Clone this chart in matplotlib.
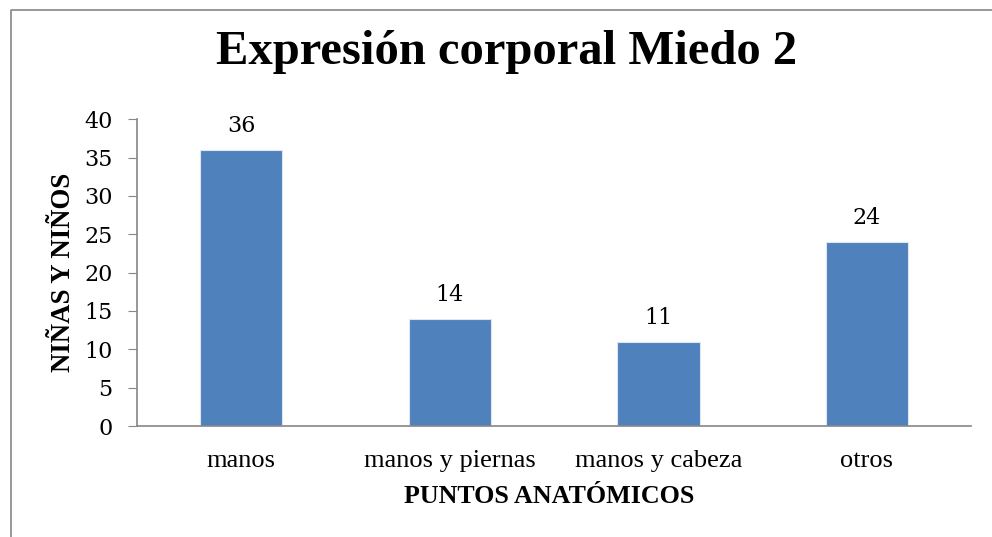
import matplotlib.pyplot as plt
from matplotlib.lines import Line2D

categories = ["manos", "manos y piernas", "manos y cabeza", "otros"]
values = [36, 14, 11, 24]

title = "Expresión corporal Miedo 2"
xlabel = "PUNTOS ANATÓMICOS"
ylabel = "NIÑAS Y NIÑOS"

plt.rcParams['font.family'] = ['Liberation Serif', 'DejaVu Serif']

fig = plt.figure(figsize=(9.92, 5.37), dpi=100)
ax = fig.add_axes([0.138, 0.2067, 0.841, 0.5713])

x = range(len(categories))
bars = ax.bar(x, values, width=0.395, color="#4F81BD", edgecolor="#dfe6f0", linewidth=0.8)
for xi, v in zip(x, values):
    ax.text(xi, v + 2.3, str(v), ha="center", va="baseline", fontsize=16,
            family="DejaVu Serif")

ax.set_xlim(-0.5, len(categories) - 0.5)
ax.set_ylim(0, 40)
ax.set_yticks(range(0, 41, 5))
ax.set_xticks(list(x))
ax.set_xticklabels(categories, fontsize=19)
ax.tick_params(axis="y", labelsize=16, length=6.5, color="#868686", pad=11)
for lbl in ax.get_yticklabels():
    lbl.set_family("DejaVu Serif")
ax.tick_params(axis="x", length=0, pad=17)

for side in ["top", "right"]:
    ax.spines[side].set_visible(False)
for side in ["left", "bottom"]:
    ax.spines[side].set_color("#868686")
    ax.spines[side].set_linewidth(1.2)

fig.text(0.554, 1 - 503 / 537, xlabel, ha="center", va="baseline",
         fontsize=18.7, fontweight="bold")
fig.text(0.0645, 1 - 272 / 537, ylabel, ha="center", va="center", rotation=90,
         fontsize=19.4, fontweight="bold")
fig.text(0.511, 0.881, title, ha="center", va="baseline", fontsize=35, fontweight="bold")

# outer chart frame (left and top edges visible)
fig.add_artist(Line2D([0.0115, 0.0115, 1.0], [0.0, 0.981, 0.981], transform=fig.transFigure,
                      color="#868686", linewidth=1.2))

fig.savefig("out.png", dpi=100)
